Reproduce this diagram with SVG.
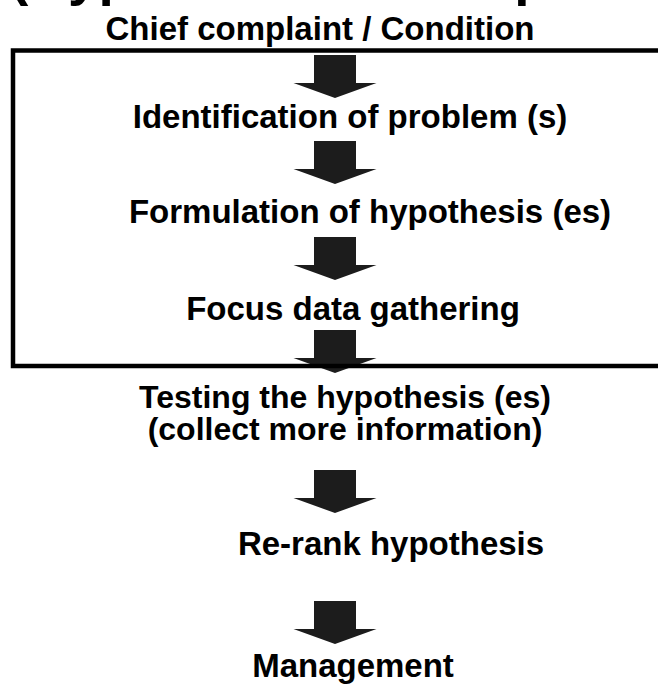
<svg xmlns="http://www.w3.org/2000/svg" width="658" height="686" viewBox="0 0 658 686" xmlns:xlink="http://www.w3.org/1999/xlink">
<style>
  .t { font-family: "Liberation Sans", Arial, sans-serif; font-weight: bold; font-size: 33px; fill: #000; text-anchor: middle; }
  .title { font-family: "Liberation Sans", Arial, sans-serif; font-weight: bold; font-size: 55px; fill: #000; }
  .arrow { fill: #1c1c1c; }
  .box { fill: none; stroke: #000; stroke-width: 4.5; }
</style>
<defs>
  <path id="blockArrow" d="M-21,0 H21 V28 H41.5 L0,43 L-41.5,28 H-21 Z"/>
</defs>
<rect width="658" height="686" fill="#fff"/>
<text class="title" x="10" y="-6.5">(Hypothesis development)</text>

<g id="connectors">
  <use class="arrow" xlink:href="#blockArrow" transform="translate(335,55)"/>
  <use class="arrow" xlink:href="#blockArrow" transform="translate(335,141)"/>
  <use class="arrow" xlink:href="#blockArrow" transform="translate(335,237)"/>
  <use class="arrow" xlink:href="#blockArrow" transform="translate(335,330)"/>
  <use class="arrow" xlink:href="#blockArrow" transform="translate(335,470)"/>
  <use class="arrow" xlink:href="#blockArrow" transform="translate(335,601)"/>
</g>

<g id="frame">
  <rect class="box" x="13" y="50.5" width="700" height="315.5"/>
</g>

<g id="node-chief"><text class="t" x="320" y="40">Chief complaint / Condition</text></g>
<g id="node-identification"><text class="t" x="350" y="128">Identification of problem (s)</text></g>
<g id="node-formulation"><text class="t" x="370" y="223">Formulation of hypothesis (es)</text></g>
<g id="node-focus"><text class="t" x="353" y="320">Focus data gathering</text></g>
<g id="node-testing">
  <text class="t" style="font-size:32px"><tspan x="345" y="408">Testing the hypothesis (es)</tspan><tspan x="345" y="440">(collect more information)</tspan></text>
</g>
<g id="node-rerank"><text class="t" x="391" y="555">Re-rank hypothesis</text></g>
<g id="node-management"><text class="t" x="353" y="677">Management</text></g>
</svg>
